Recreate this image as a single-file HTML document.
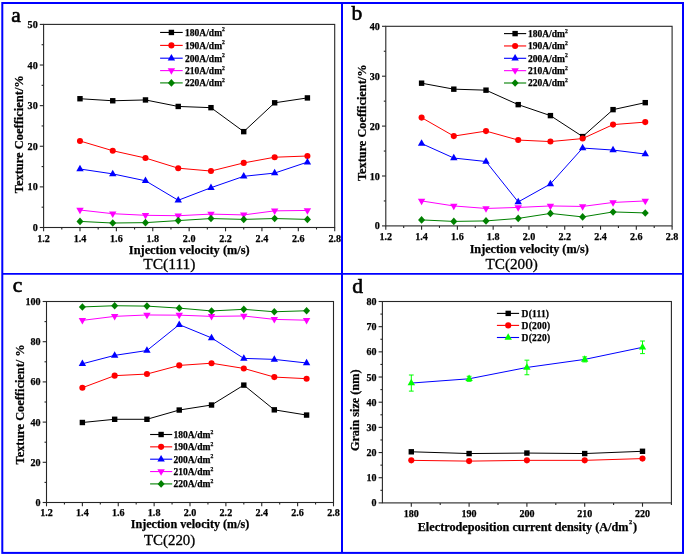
<!DOCTYPE html>
<html><head><meta charset="utf-8"><style>
html,body{margin:0;padding:0;background:#fff;width:685px;height:555px;overflow:hidden;position:relative}
</style></head><body>
<svg width="685" height="555" viewBox="0 0 685 555" style="position:absolute;left:0;top:0;filter:blur(0.35px)">
<rect width="685" height="555" fill="#fff"/>
<line x1="43.60" y1="227.50" x2="43.60" y2="231.30" stroke="#262626" stroke-width="1.1"/>
<line x1="79.99" y1="227.50" x2="79.99" y2="231.30" stroke="#262626" stroke-width="1.1"/>
<line x1="116.38" y1="227.50" x2="116.38" y2="231.30" stroke="#262626" stroke-width="1.1"/>
<line x1="152.76" y1="227.50" x2="152.76" y2="231.30" stroke="#262626" stroke-width="1.1"/>
<line x1="189.15" y1="227.50" x2="189.15" y2="231.30" stroke="#262626" stroke-width="1.1"/>
<line x1="225.54" y1="227.50" x2="225.54" y2="231.30" stroke="#262626" stroke-width="1.1"/>
<line x1="261.93" y1="227.50" x2="261.93" y2="231.30" stroke="#262626" stroke-width="1.1"/>
<line x1="298.31" y1="227.50" x2="298.31" y2="231.30" stroke="#262626" stroke-width="1.1"/>
<line x1="334.70" y1="227.50" x2="334.70" y2="231.30" stroke="#262626" stroke-width="1.1"/>
<line x1="61.79" y1="227.50" x2="61.79" y2="229.50" stroke="#262626" stroke-width="1.1"/>
<line x1="98.18" y1="227.50" x2="98.18" y2="229.50" stroke="#262626" stroke-width="1.1"/>
<line x1="134.57" y1="227.50" x2="134.57" y2="229.50" stroke="#262626" stroke-width="1.1"/>
<line x1="170.96" y1="227.50" x2="170.96" y2="229.50" stroke="#262626" stroke-width="1.1"/>
<line x1="207.34" y1="227.50" x2="207.34" y2="229.50" stroke="#262626" stroke-width="1.1"/>
<line x1="243.73" y1="227.50" x2="243.73" y2="229.50" stroke="#262626" stroke-width="1.1"/>
<line x1="280.12" y1="227.50" x2="280.12" y2="229.50" stroke="#262626" stroke-width="1.1"/>
<line x1="316.51" y1="227.50" x2="316.51" y2="229.50" stroke="#262626" stroke-width="1.1"/>
<line x1="43.60" y1="227.50" x2="39.80" y2="227.50" stroke="#262626" stroke-width="1.1"/>
<line x1="43.60" y1="186.88" x2="39.80" y2="186.88" stroke="#262626" stroke-width="1.1"/>
<line x1="43.60" y1="146.26" x2="39.80" y2="146.26" stroke="#262626" stroke-width="1.1"/>
<line x1="43.60" y1="105.64" x2="39.80" y2="105.64" stroke="#262626" stroke-width="1.1"/>
<line x1="43.60" y1="65.02" x2="39.80" y2="65.02" stroke="#262626" stroke-width="1.1"/>
<line x1="43.60" y1="24.40" x2="39.80" y2="24.40" stroke="#262626" stroke-width="1.1"/>
<line x1="43.60" y1="207.19" x2="41.60" y2="207.19" stroke="#262626" stroke-width="1.1"/>
<line x1="43.60" y1="166.57" x2="41.60" y2="166.57" stroke="#262626" stroke-width="1.1"/>
<line x1="43.60" y1="125.95" x2="41.60" y2="125.95" stroke="#262626" stroke-width="1.1"/>
<line x1="43.60" y1="85.33" x2="41.60" y2="85.33" stroke="#262626" stroke-width="1.1"/>
<line x1="43.60" y1="44.71" x2="41.60" y2="44.71" stroke="#262626" stroke-width="1.1"/>
<rect x="43.60" y="24.40" width="291.10" height="203.10" fill="none" stroke="#262626" stroke-width="1.1"/>
<text x="43.60" y="241.60" text-anchor="middle" style="font-family:'Liberation Serif',serif;font-weight:bold;stroke:#000;stroke-width:0.25px;font-size:10.1px">1.2</text>
<text x="79.99" y="241.60" text-anchor="middle" style="font-family:'Liberation Serif',serif;font-weight:bold;stroke:#000;stroke-width:0.25px;font-size:10.1px">1.4</text>
<text x="116.38" y="241.60" text-anchor="middle" style="font-family:'Liberation Serif',serif;font-weight:bold;stroke:#000;stroke-width:0.25px;font-size:10.1px">1.6</text>
<text x="152.76" y="241.60" text-anchor="middle" style="font-family:'Liberation Serif',serif;font-weight:bold;stroke:#000;stroke-width:0.25px;font-size:10.1px">1.8</text>
<text x="189.15" y="241.60" text-anchor="middle" style="font-family:'Liberation Serif',serif;font-weight:bold;stroke:#000;stroke-width:0.25px;font-size:10.1px">2.0</text>
<text x="225.54" y="241.60" text-anchor="middle" style="font-family:'Liberation Serif',serif;font-weight:bold;stroke:#000;stroke-width:0.25px;font-size:10.1px">2.2</text>
<text x="261.93" y="241.60" text-anchor="middle" style="font-family:'Liberation Serif',serif;font-weight:bold;stroke:#000;stroke-width:0.25px;font-size:10.1px">2.4</text>
<text x="298.31" y="241.60" text-anchor="middle" style="font-family:'Liberation Serif',serif;font-weight:bold;stroke:#000;stroke-width:0.25px;font-size:10.1px">2.6</text>
<text x="334.70" y="241.60" text-anchor="middle" style="font-family:'Liberation Serif',serif;font-weight:bold;stroke:#000;stroke-width:0.25px;font-size:10.1px">2.8</text>
<text x="37.70" y="231.00" text-anchor="end" style="font-family:'Liberation Serif',serif;font-weight:bold;stroke:#000;stroke-width:0.25px;font-size:10.1px">0</text>
<text x="37.70" y="190.38" text-anchor="end" style="font-family:'Liberation Serif',serif;font-weight:bold;stroke:#000;stroke-width:0.25px;font-size:10.1px">10</text>
<text x="37.70" y="149.76" text-anchor="end" style="font-family:'Liberation Serif',serif;font-weight:bold;stroke:#000;stroke-width:0.25px;font-size:10.1px">20</text>
<text x="37.70" y="109.14" text-anchor="end" style="font-family:'Liberation Serif',serif;font-weight:bold;stroke:#000;stroke-width:0.25px;font-size:10.1px">30</text>
<text x="37.70" y="68.52" text-anchor="end" style="font-family:'Liberation Serif',serif;font-weight:bold;stroke:#000;stroke-width:0.25px;font-size:10.1px">40</text>
<text x="37.70" y="27.90" text-anchor="end" style="font-family:'Liberation Serif',serif;font-weight:bold;stroke:#000;stroke-width:0.25px;font-size:10.1px">50</text>
<polyline points="79.99,98.73 112.74,100.77 145.49,99.95 178.23,106.45 210.98,107.67 243.73,131.64 274.66,102.80 307.41,97.92" fill="none" stroke="#000000" stroke-width="1.0" stroke-linejoin="round"/>
<rect x="77.29" y="96.03" width="5.40" height="5.40" fill="#000000"/>
<rect x="110.04" y="98.07" width="5.40" height="5.40" fill="#000000"/>
<rect x="142.79" y="97.25" width="5.40" height="5.40" fill="#000000"/>
<rect x="175.53" y="103.75" width="5.40" height="5.40" fill="#000000"/>
<rect x="208.28" y="104.97" width="5.40" height="5.40" fill="#000000"/>
<rect x="241.03" y="128.94" width="5.40" height="5.40" fill="#000000"/>
<rect x="271.96" y="100.10" width="5.40" height="5.40" fill="#000000"/>
<rect x="304.71" y="95.22" width="5.40" height="5.40" fill="#000000"/>
<polyline points="79.99,140.98 112.74,150.73 145.49,158.04 178.23,168.19 210.98,171.04 243.73,162.91 274.66,157.23 307.41,156.01" fill="none" stroke="#ff0000" stroke-width="1.0" stroke-linejoin="round"/>
<circle cx="79.99" cy="140.98" r="3.05" fill="#ff0000"/>
<circle cx="112.74" cy="150.73" r="3.05" fill="#ff0000"/>
<circle cx="145.49" cy="158.04" r="3.05" fill="#ff0000"/>
<circle cx="178.23" cy="168.19" r="3.05" fill="#ff0000"/>
<circle cx="210.98" cy="171.04" r="3.05" fill="#ff0000"/>
<circle cx="243.73" cy="162.91" r="3.05" fill="#ff0000"/>
<circle cx="274.66" cy="157.23" r="3.05" fill="#ff0000"/>
<circle cx="307.41" cy="156.01" r="3.05" fill="#ff0000"/>
<polyline points="79.99,169.01 112.74,173.88 145.49,180.79 178.23,200.28 210.98,187.69 243.73,176.32 274.66,173.07 307.41,162.10" fill="none" stroke="#0000ff" stroke-width="1.0" stroke-linejoin="round"/>
<polygon points="79.99,164.81 83.69,171.31 76.29,171.31" fill="#0000ff"/>
<polygon points="112.74,169.68 116.44,176.18 109.04,176.18" fill="#0000ff"/>
<polygon points="145.49,176.59 149.19,183.09 141.79,183.09" fill="#0000ff"/>
<polygon points="178.23,196.08 181.93,202.58 174.53,202.58" fill="#0000ff"/>
<polygon points="210.98,183.49 214.68,189.99 207.28,189.99" fill="#0000ff"/>
<polygon points="243.73,172.12 247.43,178.62 240.03,178.62" fill="#0000ff"/>
<polygon points="274.66,168.87 278.36,175.37 270.96,175.37" fill="#0000ff"/>
<polygon points="307.41,157.90 311.11,164.40 303.71,164.40" fill="#0000ff"/>
<polyline points="79.99,210.03 112.74,213.69 145.49,215.31 178.23,215.72 210.98,214.10 243.73,214.91 274.66,210.85 307.41,210.44" fill="none" stroke="#ff00ff" stroke-width="1.0" stroke-linejoin="round"/>
<polygon points="79.99,214.23 83.69,207.73 76.29,207.73" fill="#ff00ff"/>
<polygon points="112.74,217.89 116.44,211.39 109.04,211.39" fill="#ff00ff"/>
<polygon points="145.49,219.51 149.19,213.01 141.79,213.01" fill="#ff00ff"/>
<polygon points="178.23,219.92 181.93,213.42 174.53,213.42" fill="#ff00ff"/>
<polygon points="210.98,218.30 214.68,211.80 207.28,211.80" fill="#ff00ff"/>
<polygon points="243.73,219.11 247.43,212.61 240.03,212.61" fill="#ff00ff"/>
<polygon points="274.66,215.05 278.36,208.55 270.96,208.55" fill="#ff00ff"/>
<polygon points="307.41,214.64 311.11,208.14 303.71,208.14" fill="#ff00ff"/>
<polyline points="79.99,221.41 112.74,223.03 145.49,222.63 178.23,220.59 210.98,218.56 243.73,219.38 274.66,218.56 307.41,219.38" fill="none" stroke="#008000" stroke-width="1.0" stroke-linejoin="round"/>
<polygon points="79.99,217.61 83.49,221.41 79.99,225.21 76.49,221.41" fill="#008000"/>
<polygon points="112.74,219.23 116.24,223.03 112.74,226.83 109.24,223.03" fill="#008000"/>
<polygon points="145.49,218.83 148.99,222.63 145.49,226.43 141.99,222.63" fill="#008000"/>
<polygon points="178.23,216.79 181.73,220.59 178.23,224.39 174.73,220.59" fill="#008000"/>
<polygon points="210.98,214.76 214.48,218.56 210.98,222.36 207.48,218.56" fill="#008000"/>
<polygon points="243.73,215.58 247.23,219.38 243.73,223.18 240.23,219.38" fill="#008000"/>
<polygon points="274.66,214.76 278.16,218.56 274.66,222.36 271.16,218.56" fill="#008000"/>
<polygon points="307.41,215.58 310.91,219.38 307.41,223.18 303.91,219.38" fill="#008000"/>
<line x1="160.10" y1="32.45" x2="182.70" y2="32.45" stroke="#000000" stroke-width="1.1"/>
<rect x="168.70" y="29.75" width="5.40" height="5.40" fill="#000000"/>
<text x="185.10" y="35.75" style="font-family:'Liberation Serif',serif;font-weight:bold;stroke:#000;stroke-width:0.25px;font-size:9.5px;letter-spacing:0px">180A/dm<tspan dy="-4.3" style="font-size:5.6px">2</tspan></text>
<line x1="160.10" y1="45.40" x2="182.70" y2="45.40" stroke="#ff0000" stroke-width="1.1"/>
<circle cx="171.40" cy="45.40" r="3.05" fill="#ff0000"/>
<text x="185.10" y="48.70" style="font-family:'Liberation Serif',serif;font-weight:bold;stroke:#000;stroke-width:0.25px;font-size:9.5px;letter-spacing:0px">190A/dm<tspan dy="-4.3" style="font-size:5.6px">2</tspan></text>
<line x1="160.10" y1="58.20" x2="182.70" y2="58.20" stroke="#0000ff" stroke-width="1.1"/>
<polygon points="171.40,54.00 175.10,60.50 167.70,60.50" fill="#0000ff"/>
<text x="185.10" y="61.50" style="font-family:'Liberation Serif',serif;font-weight:bold;stroke:#000;stroke-width:0.25px;font-size:9.5px;letter-spacing:0px">200A/dm<tspan dy="-4.3" style="font-size:5.6px">2</tspan></text>
<line x1="160.10" y1="70.60" x2="182.70" y2="70.60" stroke="#ff00ff" stroke-width="1.1"/>
<polygon points="171.40,74.80 175.10,68.30 167.70,68.30" fill="#ff00ff"/>
<text x="185.10" y="73.90" style="font-family:'Liberation Serif',serif;font-weight:bold;stroke:#000;stroke-width:0.25px;font-size:9.5px;letter-spacing:0px">210A/dm<tspan dy="-4.3" style="font-size:5.6px">2</tspan></text>
<line x1="160.10" y1="82.90" x2="182.70" y2="82.90" stroke="#008000" stroke-width="1.1"/>
<polygon points="171.40,79.10 174.90,82.90 171.40,86.70 167.90,82.90" fill="#008000"/>
<text x="185.10" y="86.20" style="font-family:'Liberation Serif',serif;font-weight:bold;stroke:#000;stroke-width:0.25px;font-size:9.5px;letter-spacing:0px">220A/dm<tspan dy="-4.3" style="font-size:5.6px">2</tspan></text>
<line x1="385.80" y1="225.90" x2="385.80" y2="229.70" stroke="#262626" stroke-width="1.1"/>
<line x1="421.59" y1="225.90" x2="421.59" y2="229.70" stroke="#262626" stroke-width="1.1"/>
<line x1="457.38" y1="225.90" x2="457.38" y2="229.70" stroke="#262626" stroke-width="1.1"/>
<line x1="493.16" y1="225.90" x2="493.16" y2="229.70" stroke="#262626" stroke-width="1.1"/>
<line x1="528.95" y1="225.90" x2="528.95" y2="229.70" stroke="#262626" stroke-width="1.1"/>
<line x1="564.74" y1="225.90" x2="564.74" y2="229.70" stroke="#262626" stroke-width="1.1"/>
<line x1="600.53" y1="225.90" x2="600.53" y2="229.70" stroke="#262626" stroke-width="1.1"/>
<line x1="636.31" y1="225.90" x2="636.31" y2="229.70" stroke="#262626" stroke-width="1.1"/>
<line x1="672.10" y1="225.90" x2="672.10" y2="229.70" stroke="#262626" stroke-width="1.1"/>
<line x1="403.69" y1="225.90" x2="403.69" y2="227.90" stroke="#262626" stroke-width="1.1"/>
<line x1="439.48" y1="225.90" x2="439.48" y2="227.90" stroke="#262626" stroke-width="1.1"/>
<line x1="475.27" y1="225.90" x2="475.27" y2="227.90" stroke="#262626" stroke-width="1.1"/>
<line x1="511.06" y1="225.90" x2="511.06" y2="227.90" stroke="#262626" stroke-width="1.1"/>
<line x1="546.84" y1="225.90" x2="546.84" y2="227.90" stroke="#262626" stroke-width="1.1"/>
<line x1="582.63" y1="225.90" x2="582.63" y2="227.90" stroke="#262626" stroke-width="1.1"/>
<line x1="618.42" y1="225.90" x2="618.42" y2="227.90" stroke="#262626" stroke-width="1.1"/>
<line x1="654.21" y1="225.90" x2="654.21" y2="227.90" stroke="#262626" stroke-width="1.1"/>
<line x1="385.80" y1="225.90" x2="382.00" y2="225.90" stroke="#262626" stroke-width="1.1"/>
<line x1="385.80" y1="176.00" x2="382.00" y2="176.00" stroke="#262626" stroke-width="1.1"/>
<line x1="385.80" y1="126.10" x2="382.00" y2="126.10" stroke="#262626" stroke-width="1.1"/>
<line x1="385.80" y1="76.20" x2="382.00" y2="76.20" stroke="#262626" stroke-width="1.1"/>
<line x1="385.80" y1="26.30" x2="382.00" y2="26.30" stroke="#262626" stroke-width="1.1"/>
<line x1="385.80" y1="200.95" x2="383.80" y2="200.95" stroke="#262626" stroke-width="1.1"/>
<line x1="385.80" y1="151.05" x2="383.80" y2="151.05" stroke="#262626" stroke-width="1.1"/>
<line x1="385.80" y1="101.15" x2="383.80" y2="101.15" stroke="#262626" stroke-width="1.1"/>
<line x1="385.80" y1="51.25" x2="383.80" y2="51.25" stroke="#262626" stroke-width="1.1"/>
<rect x="385.80" y="26.30" width="286.30" height="199.60" fill="none" stroke="#262626" stroke-width="1.1"/>
<text x="385.80" y="240.00" text-anchor="middle" style="font-family:'Liberation Serif',serif;font-weight:bold;stroke:#000;stroke-width:0.25px;font-size:10.1px">1.2</text>
<text x="421.59" y="240.00" text-anchor="middle" style="font-family:'Liberation Serif',serif;font-weight:bold;stroke:#000;stroke-width:0.25px;font-size:10.1px">1.4</text>
<text x="457.38" y="240.00" text-anchor="middle" style="font-family:'Liberation Serif',serif;font-weight:bold;stroke:#000;stroke-width:0.25px;font-size:10.1px">1.6</text>
<text x="493.16" y="240.00" text-anchor="middle" style="font-family:'Liberation Serif',serif;font-weight:bold;stroke:#000;stroke-width:0.25px;font-size:10.1px">1.8</text>
<text x="528.95" y="240.00" text-anchor="middle" style="font-family:'Liberation Serif',serif;font-weight:bold;stroke:#000;stroke-width:0.25px;font-size:10.1px">2.0</text>
<text x="564.74" y="240.00" text-anchor="middle" style="font-family:'Liberation Serif',serif;font-weight:bold;stroke:#000;stroke-width:0.25px;font-size:10.1px">2.2</text>
<text x="600.53" y="240.00" text-anchor="middle" style="font-family:'Liberation Serif',serif;font-weight:bold;stroke:#000;stroke-width:0.25px;font-size:10.1px">2.4</text>
<text x="636.31" y="240.00" text-anchor="middle" style="font-family:'Liberation Serif',serif;font-weight:bold;stroke:#000;stroke-width:0.25px;font-size:10.1px">2.6</text>
<text x="672.10" y="240.00" text-anchor="middle" style="font-family:'Liberation Serif',serif;font-weight:bold;stroke:#000;stroke-width:0.25px;font-size:10.1px">2.8</text>
<text x="379.90" y="229.40" text-anchor="end" style="font-family:'Liberation Serif',serif;font-weight:bold;stroke:#000;stroke-width:0.25px;font-size:10.1px">0</text>
<text x="379.90" y="179.50" text-anchor="end" style="font-family:'Liberation Serif',serif;font-weight:bold;stroke:#000;stroke-width:0.25px;font-size:10.1px">10</text>
<text x="379.90" y="129.60" text-anchor="end" style="font-family:'Liberation Serif',serif;font-weight:bold;stroke:#000;stroke-width:0.25px;font-size:10.1px">20</text>
<text x="379.90" y="79.70" text-anchor="end" style="font-family:'Liberation Serif',serif;font-weight:bold;stroke:#000;stroke-width:0.25px;font-size:10.1px">30</text>
<text x="379.90" y="29.80" text-anchor="end" style="font-family:'Liberation Serif',serif;font-weight:bold;stroke:#000;stroke-width:0.25px;font-size:10.1px">40</text>
<polyline points="421.59,83.19 453.80,89.17 486.01,90.17 518.21,104.64 550.42,115.62 582.63,136.58 613.05,109.63 645.26,102.65" fill="none" stroke="#000000" stroke-width="1.0" stroke-linejoin="round"/>
<rect x="418.89" y="80.49" width="5.40" height="5.40" fill="#000000"/>
<rect x="451.10" y="86.47" width="5.40" height="5.40" fill="#000000"/>
<rect x="483.31" y="87.47" width="5.40" height="5.40" fill="#000000"/>
<rect x="515.51" y="101.94" width="5.40" height="5.40" fill="#000000"/>
<rect x="547.72" y="112.92" width="5.40" height="5.40" fill="#000000"/>
<rect x="579.93" y="133.88" width="5.40" height="5.40" fill="#000000"/>
<rect x="610.35" y="106.93" width="5.40" height="5.40" fill="#000000"/>
<rect x="642.56" y="99.95" width="5.40" height="5.40" fill="#000000"/>
<polyline points="421.59,117.62 453.80,136.08 486.01,131.09 518.21,140.07 550.42,141.57 582.63,138.57 613.05,124.60 645.26,122.11" fill="none" stroke="#ff0000" stroke-width="1.0" stroke-linejoin="round"/>
<circle cx="421.59" cy="117.62" r="3.05" fill="#ff0000"/>
<circle cx="453.80" cy="136.08" r="3.05" fill="#ff0000"/>
<circle cx="486.01" cy="131.09" r="3.05" fill="#ff0000"/>
<circle cx="518.21" cy="140.07" r="3.05" fill="#ff0000"/>
<circle cx="550.42" cy="141.57" r="3.05" fill="#ff0000"/>
<circle cx="582.63" cy="138.57" r="3.05" fill="#ff0000"/>
<circle cx="613.05" cy="124.60" r="3.05" fill="#ff0000"/>
<circle cx="645.26" cy="122.11" r="3.05" fill="#ff0000"/>
<polyline points="421.59,143.56 453.80,158.04 486.01,161.53 518.21,201.95 550.42,183.98 582.63,148.06 613.05,150.05 645.26,154.04" fill="none" stroke="#0000ff" stroke-width="1.0" stroke-linejoin="round"/>
<polygon points="421.59,139.37 425.29,145.87 417.89,145.87" fill="#0000ff"/>
<polygon points="453.80,153.84 457.50,160.34 450.10,160.34" fill="#0000ff"/>
<polygon points="486.01,157.33 489.71,163.83 482.31,163.83" fill="#0000ff"/>
<polygon points="518.21,197.75 521.91,204.25 514.51,204.25" fill="#0000ff"/>
<polygon points="550.42,179.78 554.12,186.28 546.72,186.28" fill="#0000ff"/>
<polygon points="582.63,143.86 586.33,150.36 578.93,150.36" fill="#0000ff"/>
<polygon points="613.05,145.85 616.75,152.35 609.35,152.35" fill="#0000ff"/>
<polygon points="645.26,149.84 648.96,156.34 641.56,156.34" fill="#0000ff"/>
<polyline points="421.59,200.95 453.80,205.94 486.01,208.44 518.21,207.44 550.42,205.94 582.63,206.44 613.05,202.45 645.26,200.95" fill="none" stroke="#ff00ff" stroke-width="1.0" stroke-linejoin="round"/>
<polygon points="421.59,205.15 425.29,198.65 417.89,198.65" fill="#ff00ff"/>
<polygon points="453.80,210.14 457.50,203.64 450.10,203.64" fill="#ff00ff"/>
<polygon points="486.01,212.63 489.71,206.13 482.31,206.13" fill="#ff00ff"/>
<polygon points="518.21,211.64 521.91,205.14 514.51,205.14" fill="#ff00ff"/>
<polygon points="550.42,210.14 554.12,203.64 546.72,203.64" fill="#ff00ff"/>
<polygon points="582.63,210.64 586.33,204.14 578.93,204.14" fill="#ff00ff"/>
<polygon points="613.05,206.65 616.75,200.15 609.35,200.15" fill="#ff00ff"/>
<polygon points="645.26,205.15 648.96,198.65 641.56,198.65" fill="#ff00ff"/>
<polyline points="421.59,219.91 453.80,221.41 486.01,220.91 518.21,218.42 550.42,213.43 582.63,216.92 613.05,211.93 645.26,212.93" fill="none" stroke="#008000" stroke-width="1.0" stroke-linejoin="round"/>
<polygon points="421.59,216.11 425.09,219.91 421.59,223.71 418.09,219.91" fill="#008000"/>
<polygon points="453.80,217.61 457.30,221.41 453.80,225.21 450.30,221.41" fill="#008000"/>
<polygon points="486.01,217.11 489.51,220.91 486.01,224.71 482.51,220.91" fill="#008000"/>
<polygon points="518.21,214.62 521.71,218.42 518.21,222.22 514.71,218.42" fill="#008000"/>
<polygon points="550.42,209.62 553.92,213.43 550.42,217.23 546.92,213.43" fill="#008000"/>
<polygon points="582.63,213.12 586.13,216.92 582.63,220.72 579.13,216.92" fill="#008000"/>
<polygon points="613.05,208.13 616.55,211.93 613.05,215.73 609.55,211.93" fill="#008000"/>
<polygon points="645.26,209.13 648.76,212.93 645.26,216.73 641.76,212.93" fill="#008000"/>
<line x1="504.00" y1="33.60" x2="526.20" y2="33.60" stroke="#000000" stroke-width="1.1"/>
<rect x="512.40" y="30.90" width="5.40" height="5.40" fill="#000000"/>
<text x="528.00" y="36.90" style="font-family:'Liberation Serif',serif;font-weight:bold;stroke:#000;stroke-width:0.25px;font-size:9.5px;letter-spacing:0px">180A/dm<tspan dy="-4.3" style="font-size:5.6px">2</tspan></text>
<line x1="504.00" y1="45.95" x2="526.20" y2="45.95" stroke="#ff0000" stroke-width="1.1"/>
<circle cx="515.10" cy="45.95" r="3.05" fill="#ff0000"/>
<text x="528.00" y="49.25" style="font-family:'Liberation Serif',serif;font-weight:bold;stroke:#000;stroke-width:0.25px;font-size:9.5px;letter-spacing:0px">190A/dm<tspan dy="-4.3" style="font-size:5.6px">2</tspan></text>
<line x1="504.00" y1="58.30" x2="526.20" y2="58.30" stroke="#0000ff" stroke-width="1.1"/>
<polygon points="515.10,54.10 518.80,60.60 511.40,60.60" fill="#0000ff"/>
<text x="528.00" y="61.60" style="font-family:'Liberation Serif',serif;font-weight:bold;stroke:#000;stroke-width:0.25px;font-size:9.5px;letter-spacing:0px">200A/dm<tspan dy="-4.3" style="font-size:5.6px">2</tspan></text>
<line x1="504.00" y1="70.65" x2="526.20" y2="70.65" stroke="#ff00ff" stroke-width="1.1"/>
<polygon points="515.10,74.85 518.80,68.35 511.40,68.35" fill="#ff00ff"/>
<text x="528.00" y="73.95" style="font-family:'Liberation Serif',serif;font-weight:bold;stroke:#000;stroke-width:0.25px;font-size:9.5px;letter-spacing:0px">210A/dm<tspan dy="-4.3" style="font-size:5.6px">2</tspan></text>
<line x1="504.00" y1="83.00" x2="526.20" y2="83.00" stroke="#008000" stroke-width="1.1"/>
<polygon points="515.10,79.20 518.60,83.00 515.10,86.80 511.60,83.00" fill="#008000"/>
<text x="528.00" y="86.30" style="font-family:'Liberation Serif',serif;font-weight:bold;stroke:#000;stroke-width:0.25px;font-size:9.5px;letter-spacing:0px">220A/dm<tspan dy="-4.3" style="font-size:5.6px">2</tspan></text>
<line x1="46.50" y1="502.50" x2="46.50" y2="506.30" stroke="#262626" stroke-width="1.1"/>
<line x1="82.38" y1="502.50" x2="82.38" y2="506.30" stroke="#262626" stroke-width="1.1"/>
<line x1="118.25" y1="502.50" x2="118.25" y2="506.30" stroke="#262626" stroke-width="1.1"/>
<line x1="154.13" y1="502.50" x2="154.13" y2="506.30" stroke="#262626" stroke-width="1.1"/>
<line x1="190.00" y1="502.50" x2="190.00" y2="506.30" stroke="#262626" stroke-width="1.1"/>
<line x1="225.88" y1="502.50" x2="225.88" y2="506.30" stroke="#262626" stroke-width="1.1"/>
<line x1="261.75" y1="502.50" x2="261.75" y2="506.30" stroke="#262626" stroke-width="1.1"/>
<line x1="297.62" y1="502.50" x2="297.62" y2="506.30" stroke="#262626" stroke-width="1.1"/>
<line x1="333.50" y1="502.50" x2="333.50" y2="506.30" stroke="#262626" stroke-width="1.1"/>
<line x1="64.44" y1="502.50" x2="64.44" y2="504.50" stroke="#262626" stroke-width="1.1"/>
<line x1="100.31" y1="502.50" x2="100.31" y2="504.50" stroke="#262626" stroke-width="1.1"/>
<line x1="136.19" y1="502.50" x2="136.19" y2="504.50" stroke="#262626" stroke-width="1.1"/>
<line x1="172.06" y1="502.50" x2="172.06" y2="504.50" stroke="#262626" stroke-width="1.1"/>
<line x1="207.94" y1="502.50" x2="207.94" y2="504.50" stroke="#262626" stroke-width="1.1"/>
<line x1="243.81" y1="502.50" x2="243.81" y2="504.50" stroke="#262626" stroke-width="1.1"/>
<line x1="279.69" y1="502.50" x2="279.69" y2="504.50" stroke="#262626" stroke-width="1.1"/>
<line x1="315.56" y1="502.50" x2="315.56" y2="504.50" stroke="#262626" stroke-width="1.1"/>
<line x1="46.50" y1="502.50" x2="42.70" y2="502.50" stroke="#262626" stroke-width="1.1"/>
<line x1="46.50" y1="462.30" x2="42.70" y2="462.30" stroke="#262626" stroke-width="1.1"/>
<line x1="46.50" y1="422.10" x2="42.70" y2="422.10" stroke="#262626" stroke-width="1.1"/>
<line x1="46.50" y1="381.90" x2="42.70" y2="381.90" stroke="#262626" stroke-width="1.1"/>
<line x1="46.50" y1="341.70" x2="42.70" y2="341.70" stroke="#262626" stroke-width="1.1"/>
<line x1="46.50" y1="301.50" x2="42.70" y2="301.50" stroke="#262626" stroke-width="1.1"/>
<line x1="46.50" y1="482.40" x2="44.50" y2="482.40" stroke="#262626" stroke-width="1.1"/>
<line x1="46.50" y1="442.20" x2="44.50" y2="442.20" stroke="#262626" stroke-width="1.1"/>
<line x1="46.50" y1="402.00" x2="44.50" y2="402.00" stroke="#262626" stroke-width="1.1"/>
<line x1="46.50" y1="361.80" x2="44.50" y2="361.80" stroke="#262626" stroke-width="1.1"/>
<line x1="46.50" y1="321.60" x2="44.50" y2="321.60" stroke="#262626" stroke-width="1.1"/>
<rect x="46.50" y="301.50" width="287.00" height="201.00" fill="none" stroke="#262626" stroke-width="1.1"/>
<text x="46.50" y="516.20" text-anchor="middle" style="font-family:'Liberation Serif',serif;font-weight:bold;stroke:#000;stroke-width:0.25px;font-size:10.1px">1.2</text>
<text x="82.38" y="516.20" text-anchor="middle" style="font-family:'Liberation Serif',serif;font-weight:bold;stroke:#000;stroke-width:0.25px;font-size:10.1px">1.4</text>
<text x="118.25" y="516.20" text-anchor="middle" style="font-family:'Liberation Serif',serif;font-weight:bold;stroke:#000;stroke-width:0.25px;font-size:10.1px">1.6</text>
<text x="154.13" y="516.20" text-anchor="middle" style="font-family:'Liberation Serif',serif;font-weight:bold;stroke:#000;stroke-width:0.25px;font-size:10.1px">1.8</text>
<text x="190.00" y="516.20" text-anchor="middle" style="font-family:'Liberation Serif',serif;font-weight:bold;stroke:#000;stroke-width:0.25px;font-size:10.1px">2.0</text>
<text x="225.88" y="516.20" text-anchor="middle" style="font-family:'Liberation Serif',serif;font-weight:bold;stroke:#000;stroke-width:0.25px;font-size:10.1px">2.2</text>
<text x="261.75" y="516.20" text-anchor="middle" style="font-family:'Liberation Serif',serif;font-weight:bold;stroke:#000;stroke-width:0.25px;font-size:10.1px">2.4</text>
<text x="297.62" y="516.20" text-anchor="middle" style="font-family:'Liberation Serif',serif;font-weight:bold;stroke:#000;stroke-width:0.25px;font-size:10.1px">2.6</text>
<text x="333.50" y="516.20" text-anchor="middle" style="font-family:'Liberation Serif',serif;font-weight:bold;stroke:#000;stroke-width:0.25px;font-size:10.1px">2.8</text>
<text x="40.60" y="506.00" text-anchor="end" style="font-family:'Liberation Serif',serif;font-weight:bold;stroke:#000;stroke-width:0.25px;font-size:10.1px">0</text>
<text x="40.60" y="465.80" text-anchor="end" style="font-family:'Liberation Serif',serif;font-weight:bold;stroke:#000;stroke-width:0.25px;font-size:10.1px">20</text>
<text x="40.60" y="425.60" text-anchor="end" style="font-family:'Liberation Serif',serif;font-weight:bold;stroke:#000;stroke-width:0.25px;font-size:10.1px">40</text>
<text x="40.60" y="385.40" text-anchor="end" style="font-family:'Liberation Serif',serif;font-weight:bold;stroke:#000;stroke-width:0.25px;font-size:10.1px">60</text>
<text x="40.60" y="345.20" text-anchor="end" style="font-family:'Liberation Serif',serif;font-weight:bold;stroke:#000;stroke-width:0.25px;font-size:10.1px">80</text>
<text x="40.60" y="305.00" text-anchor="end" style="font-family:'Liberation Serif',serif;font-weight:bold;stroke:#000;stroke-width:0.25px;font-size:10.1px">100</text>
<polyline points="82.38,422.50 114.66,419.29 146.95,419.29 179.24,410.04 211.53,405.01 243.81,385.12 274.31,409.84 306.59,415.06" fill="none" stroke="#000000" stroke-width="1.0" stroke-linejoin="round"/>
<rect x="79.67" y="419.80" width="5.40" height="5.40" fill="#000000"/>
<rect x="111.96" y="416.59" width="5.40" height="5.40" fill="#000000"/>
<rect x="144.25" y="416.59" width="5.40" height="5.40" fill="#000000"/>
<rect x="176.54" y="407.34" width="5.40" height="5.40" fill="#000000"/>
<rect x="208.83" y="402.31" width="5.40" height="5.40" fill="#000000"/>
<rect x="241.11" y="382.42" width="5.40" height="5.40" fill="#000000"/>
<rect x="271.61" y="407.14" width="5.40" height="5.40" fill="#000000"/>
<rect x="303.89" y="412.37" width="5.40" height="5.40" fill="#000000"/>
<polyline points="82.38,387.73 114.66,375.67 146.95,374.06 179.24,365.42 211.53,363.21 243.81,368.43 274.31,377.08 306.59,378.68" fill="none" stroke="#ff0000" stroke-width="1.0" stroke-linejoin="round"/>
<circle cx="82.38" cy="387.73" r="3.05" fill="#ff0000"/>
<circle cx="114.66" cy="375.67" r="3.05" fill="#ff0000"/>
<circle cx="146.95" cy="374.06" r="3.05" fill="#ff0000"/>
<circle cx="179.24" cy="365.42" r="3.05" fill="#ff0000"/>
<circle cx="211.53" cy="363.21" r="3.05" fill="#ff0000"/>
<circle cx="243.81" cy="368.43" r="3.05" fill="#ff0000"/>
<circle cx="274.31" cy="377.08" r="3.05" fill="#ff0000"/>
<circle cx="306.59" cy="378.68" r="3.05" fill="#ff0000"/>
<polyline points="82.38,363.81 114.66,355.37 146.95,350.54 179.24,324.62 211.53,337.88 243.81,358.38 274.31,359.39 306.59,363.01" fill="none" stroke="#0000ff" stroke-width="1.0" stroke-linejoin="round"/>
<polygon points="82.38,359.61 86.08,366.11 78.67,366.11" fill="#0000ff"/>
<polygon points="114.66,351.17 118.36,357.67 110.96,357.67" fill="#0000ff"/>
<polygon points="146.95,346.34 150.65,352.84 143.25,352.84" fill="#0000ff"/>
<polygon points="179.24,320.42 182.94,326.92 175.54,326.92" fill="#0000ff"/>
<polygon points="211.53,333.68 215.23,340.18 207.83,340.18" fill="#0000ff"/>
<polygon points="243.81,354.18 247.51,360.68 240.11,360.68" fill="#0000ff"/>
<polygon points="274.31,355.19 278.01,361.69 270.61,361.69" fill="#0000ff"/>
<polygon points="306.59,358.81 310.29,365.31 302.89,365.31" fill="#0000ff"/>
<polyline points="82.38,320.39 114.66,316.37 146.95,314.97 179.24,315.17 211.53,316.37 243.81,315.97 274.31,319.39 306.59,320.19" fill="none" stroke="#ff00ff" stroke-width="1.0" stroke-linejoin="round"/>
<polygon points="82.38,324.59 86.08,318.09 78.67,318.09" fill="#ff00ff"/>
<polygon points="114.66,320.57 118.36,314.07 110.96,314.07" fill="#ff00ff"/>
<polygon points="146.95,319.17 150.65,312.67 143.25,312.67" fill="#ff00ff"/>
<polygon points="179.24,319.37 182.94,312.87 175.54,312.87" fill="#ff00ff"/>
<polygon points="211.53,320.57 215.23,314.07 207.83,314.07" fill="#ff00ff"/>
<polygon points="243.81,320.17 247.51,313.67 240.11,313.67" fill="#ff00ff"/>
<polygon points="274.31,323.59 278.01,317.09 270.61,317.09" fill="#ff00ff"/>
<polygon points="306.59,324.39 310.29,317.89 302.89,317.89" fill="#ff00ff"/>
<polyline points="82.38,306.93 114.66,305.72 146.95,306.12 179.24,308.13 211.53,310.95 243.81,309.34 274.31,311.75 306.59,310.75" fill="none" stroke="#008000" stroke-width="1.0" stroke-linejoin="round"/>
<polygon points="82.38,303.13 85.88,306.93 82.38,310.73 78.88,306.93" fill="#008000"/>
<polygon points="114.66,301.92 118.16,305.72 114.66,309.52 111.16,305.72" fill="#008000"/>
<polygon points="146.95,302.32 150.45,306.12 146.95,309.92 143.45,306.12" fill="#008000"/>
<polygon points="179.24,304.33 182.74,308.13 179.24,311.93 175.74,308.13" fill="#008000"/>
<polygon points="211.53,307.15 215.03,310.95 211.53,314.75 208.03,310.95" fill="#008000"/>
<polygon points="243.81,305.54 247.31,309.34 243.81,313.14 240.31,309.34" fill="#008000"/>
<polygon points="274.31,307.95 277.81,311.75 274.31,315.55 270.81,311.75" fill="#008000"/>
<polygon points="306.59,306.95 310.09,310.75 306.59,314.55 303.09,310.75" fill="#008000"/>
<line x1="150.10" y1="434.50" x2="172.20" y2="434.50" stroke="#000000" stroke-width="1.1"/>
<rect x="158.40" y="431.80" width="5.40" height="5.40" fill="#000000"/>
<text x="173.50" y="437.80" style="font-family:'Liberation Serif',serif;font-weight:bold;stroke:#000;stroke-width:0.25px;font-size:9.5px;letter-spacing:0px">180A/dm<tspan dy="-4.3" style="font-size:5.6px">2</tspan></text>
<line x1="150.10" y1="446.85" x2="172.20" y2="446.85" stroke="#ff0000" stroke-width="1.1"/>
<circle cx="161.10" cy="446.85" r="3.05" fill="#ff0000"/>
<text x="173.50" y="450.15" style="font-family:'Liberation Serif',serif;font-weight:bold;stroke:#000;stroke-width:0.25px;font-size:9.5px;letter-spacing:0px">190A/dm<tspan dy="-4.3" style="font-size:5.6px">2</tspan></text>
<line x1="150.10" y1="459.20" x2="172.20" y2="459.20" stroke="#0000ff" stroke-width="1.1"/>
<polygon points="161.10,455.00 164.80,461.50 157.40,461.50" fill="#0000ff"/>
<text x="173.50" y="462.50" style="font-family:'Liberation Serif',serif;font-weight:bold;stroke:#000;stroke-width:0.25px;font-size:9.5px;letter-spacing:0px">200A/dm<tspan dy="-4.3" style="font-size:5.6px">2</tspan></text>
<line x1="150.10" y1="471.55" x2="172.20" y2="471.55" stroke="#ff00ff" stroke-width="1.1"/>
<polygon points="161.10,475.75 164.80,469.25 157.40,469.25" fill="#ff00ff"/>
<text x="173.50" y="474.85" style="font-family:'Liberation Serif',serif;font-weight:bold;stroke:#000;stroke-width:0.25px;font-size:9.5px;letter-spacing:0px">210A/dm<tspan dy="-4.3" style="font-size:5.6px">2</tspan></text>
<line x1="150.10" y1="483.90" x2="172.20" y2="483.90" stroke="#008000" stroke-width="1.1"/>
<polygon points="161.10,480.10 164.60,483.90 161.10,487.70 157.60,483.90" fill="#008000"/>
<text x="173.50" y="487.20" style="font-family:'Liberation Serif',serif;font-weight:bold;stroke:#000;stroke-width:0.25px;font-size:9.5px;letter-spacing:0px">220A/dm<tspan dy="-4.3" style="font-size:5.6px">2</tspan></text>
<line x1="411.30" y1="502.90" x2="411.30" y2="506.70" stroke="#262626" stroke-width="1.1"/>
<line x1="469.10" y1="502.90" x2="469.10" y2="506.70" stroke="#262626" stroke-width="1.1"/>
<line x1="526.90" y1="502.90" x2="526.90" y2="506.70" stroke="#262626" stroke-width="1.1"/>
<line x1="584.70" y1="502.90" x2="584.70" y2="506.70" stroke="#262626" stroke-width="1.1"/>
<line x1="642.50" y1="502.90" x2="642.50" y2="506.70" stroke="#262626" stroke-width="1.1"/>
<line x1="440.20" y1="502.90" x2="440.20" y2="504.90" stroke="#262626" stroke-width="1.1"/>
<line x1="498.00" y1="502.90" x2="498.00" y2="504.90" stroke="#262626" stroke-width="1.1"/>
<line x1="555.80" y1="502.90" x2="555.80" y2="504.90" stroke="#262626" stroke-width="1.1"/>
<line x1="613.60" y1="502.90" x2="613.60" y2="504.90" stroke="#262626" stroke-width="1.1"/>
<line x1="671.40" y1="502.90" x2="671.40" y2="504.90" stroke="#262626" stroke-width="1.1"/>
<line x1="382.40" y1="502.90" x2="378.60" y2="502.90" stroke="#262626" stroke-width="1.1"/>
<line x1="382.40" y1="477.72" x2="378.60" y2="477.72" stroke="#262626" stroke-width="1.1"/>
<line x1="382.40" y1="452.55" x2="378.60" y2="452.55" stroke="#262626" stroke-width="1.1"/>
<line x1="382.40" y1="427.38" x2="378.60" y2="427.38" stroke="#262626" stroke-width="1.1"/>
<line x1="382.40" y1="402.20" x2="378.60" y2="402.20" stroke="#262626" stroke-width="1.1"/>
<line x1="382.40" y1="377.02" x2="378.60" y2="377.02" stroke="#262626" stroke-width="1.1"/>
<line x1="382.40" y1="351.85" x2="378.60" y2="351.85" stroke="#262626" stroke-width="1.1"/>
<line x1="382.40" y1="326.68" x2="378.60" y2="326.68" stroke="#262626" stroke-width="1.1"/>
<line x1="382.40" y1="301.50" x2="378.60" y2="301.50" stroke="#262626" stroke-width="1.1"/>
<line x1="382.40" y1="490.31" x2="380.40" y2="490.31" stroke="#262626" stroke-width="1.1"/>
<line x1="382.40" y1="465.14" x2="380.40" y2="465.14" stroke="#262626" stroke-width="1.1"/>
<line x1="382.40" y1="439.96" x2="380.40" y2="439.96" stroke="#262626" stroke-width="1.1"/>
<line x1="382.40" y1="414.79" x2="380.40" y2="414.79" stroke="#262626" stroke-width="1.1"/>
<line x1="382.40" y1="389.61" x2="380.40" y2="389.61" stroke="#262626" stroke-width="1.1"/>
<line x1="382.40" y1="364.44" x2="380.40" y2="364.44" stroke="#262626" stroke-width="1.1"/>
<line x1="382.40" y1="339.26" x2="380.40" y2="339.26" stroke="#262626" stroke-width="1.1"/>
<line x1="382.40" y1="314.09" x2="380.40" y2="314.09" stroke="#262626" stroke-width="1.1"/>
<rect x="382.40" y="301.50" width="289.00" height="201.40" fill="none" stroke="#262626" stroke-width="1.1"/>
<text x="411.30" y="516.90" text-anchor="middle" style="font-family:'Liberation Serif',serif;font-weight:bold;stroke:#000;stroke-width:0.25px;font-size:10.0px">180</text>
<text x="469.10" y="516.90" text-anchor="middle" style="font-family:'Liberation Serif',serif;font-weight:bold;stroke:#000;stroke-width:0.25px;font-size:10.0px">190</text>
<text x="526.90" y="516.90" text-anchor="middle" style="font-family:'Liberation Serif',serif;font-weight:bold;stroke:#000;stroke-width:0.25px;font-size:10.0px">200</text>
<text x="584.70" y="516.90" text-anchor="middle" style="font-family:'Liberation Serif',serif;font-weight:bold;stroke:#000;stroke-width:0.25px;font-size:10.0px">210</text>
<text x="642.50" y="516.90" text-anchor="middle" style="font-family:'Liberation Serif',serif;font-weight:bold;stroke:#000;stroke-width:0.25px;font-size:10.0px">220</text>
<text x="376.50" y="506.40" text-anchor="end" style="font-family:'Liberation Serif',serif;font-weight:bold;stroke:#000;stroke-width:0.25px;font-size:10.0px">0</text>
<text x="376.50" y="481.22" text-anchor="end" style="font-family:'Liberation Serif',serif;font-weight:bold;stroke:#000;stroke-width:0.25px;font-size:10.0px">10</text>
<text x="376.50" y="456.05" text-anchor="end" style="font-family:'Liberation Serif',serif;font-weight:bold;stroke:#000;stroke-width:0.25px;font-size:10.0px">20</text>
<text x="376.50" y="430.88" text-anchor="end" style="font-family:'Liberation Serif',serif;font-weight:bold;stroke:#000;stroke-width:0.25px;font-size:10.0px">30</text>
<text x="376.50" y="405.70" text-anchor="end" style="font-family:'Liberation Serif',serif;font-weight:bold;stroke:#000;stroke-width:0.25px;font-size:10.0px">40</text>
<text x="376.50" y="380.52" text-anchor="end" style="font-family:'Liberation Serif',serif;font-weight:bold;stroke:#000;stroke-width:0.25px;font-size:10.0px">50</text>
<text x="376.50" y="355.35" text-anchor="end" style="font-family:'Liberation Serif',serif;font-weight:bold;stroke:#000;stroke-width:0.25px;font-size:10.0px">60</text>
<text x="376.50" y="330.18" text-anchor="end" style="font-family:'Liberation Serif',serif;font-weight:bold;stroke:#000;stroke-width:0.25px;font-size:10.0px">70</text>
<text x="376.50" y="305.00" text-anchor="end" style="font-family:'Liberation Serif',serif;font-weight:bold;stroke:#000;stroke-width:0.25px;font-size:10.0px">80</text>
<polyline points="411.30,451.79 469.10,453.56 526.90,453.05 584.70,453.56 642.50,451.29" fill="none" stroke="#000000" stroke-width="1.0" stroke-linejoin="round"/>
<rect x="408.60" y="449.09" width="5.40" height="5.40" fill="#000000"/>
<rect x="466.40" y="450.86" width="5.40" height="5.40" fill="#000000"/>
<rect x="524.20" y="450.35" width="5.40" height="5.40" fill="#000000"/>
<rect x="582.00" y="450.86" width="5.40" height="5.40" fill="#000000"/>
<rect x="639.80" y="448.59" width="5.40" height="5.40" fill="#000000"/>
<polyline points="411.30,460.35 469.10,461.11 526.90,460.35 584.70,460.35 642.50,458.59" fill="none" stroke="#ff0000" stroke-width="1.0" stroke-linejoin="round"/>
<circle cx="411.30" cy="460.35" r="3.05" fill="#ff0000"/>
<circle cx="469.10" cy="461.11" r="3.05" fill="#ff0000"/>
<circle cx="526.90" cy="460.35" r="3.05" fill="#ff0000"/>
<circle cx="584.70" cy="460.35" r="3.05" fill="#ff0000"/>
<circle cx="642.50" cy="458.59" r="3.05" fill="#ff0000"/>
<line x1="411.30" y1="375.01" x2="411.30" y2="391.12" stroke="#00ff00" stroke-width="1"/>
<line x1="408.90" y1="375.01" x2="413.70" y2="375.01" stroke="#00ff00" stroke-width="1"/>
<line x1="408.90" y1="391.12" x2="413.70" y2="391.12" stroke="#00ff00" stroke-width="1"/>
<line x1="469.10" y1="376.27" x2="469.10" y2="381.30" stroke="#00ff00" stroke-width="1"/>
<line x1="466.70" y1="376.27" x2="471.50" y2="376.27" stroke="#00ff00" stroke-width="1"/>
<line x1="466.70" y1="381.30" x2="471.50" y2="381.30" stroke="#00ff00" stroke-width="1"/>
<line x1="526.90" y1="360.16" x2="526.90" y2="374.76" stroke="#00ff00" stroke-width="1"/>
<line x1="524.50" y1="360.16" x2="529.30" y2="360.16" stroke="#00ff00" stroke-width="1"/>
<line x1="524.50" y1="374.76" x2="529.30" y2="374.76" stroke="#00ff00" stroke-width="1"/>
<line x1="584.70" y1="356.88" x2="584.70" y2="361.92" stroke="#00ff00" stroke-width="1"/>
<line x1="582.30" y1="356.88" x2="587.10" y2="356.88" stroke="#00ff00" stroke-width="1"/>
<line x1="582.30" y1="361.92" x2="587.10" y2="361.92" stroke="#00ff00" stroke-width="1"/>
<line x1="642.50" y1="341.02" x2="642.50" y2="353.61" stroke="#00ff00" stroke-width="1"/>
<line x1="640.10" y1="341.02" x2="644.90" y2="341.02" stroke="#00ff00" stroke-width="1"/>
<line x1="640.10" y1="353.61" x2="644.90" y2="353.61" stroke="#00ff00" stroke-width="1"/>
<polyline points="411.30,383.07 469.10,378.79 526.90,367.46 584.70,359.40 642.50,347.32" fill="none" stroke="#0000ff" stroke-width="1.0" stroke-linejoin="round"/>
<polygon points="411.30,378.87 415.00,385.37 407.60,385.37" fill="#00ff00"/>
<polygon points="469.10,374.59 472.80,381.09 465.40,381.09" fill="#00ff00"/>
<polygon points="526.90,363.26 530.60,369.76 523.20,369.76" fill="#00ff00"/>
<polygon points="584.70,355.20 588.40,361.70 581.00,361.70" fill="#00ff00"/>
<polygon points="642.50,343.12 646.20,349.62 638.80,349.62" fill="#00ff00"/>
<line x1="496.90" y1="313.40" x2="519.10" y2="313.40" stroke="#000" stroke-width="1.1"/>
<rect x="505.50" y="310.70" width="5.40" height="5.40" fill="#000"/>
<text x="521.55" y="316.70" style="font-family:'Liberation Serif',serif;font-weight:bold;stroke:#000;stroke-width:0.25px;font-size:9.5px;letter-spacing:0.22px">D(111)</text>
<line x1="496.90" y1="325.40" x2="519.10" y2="325.40" stroke="#ff0000" stroke-width="1.1"/>
<circle cx="508.20" cy="325.40" r="3.05" fill="#ff0000"/>
<text x="521.55" y="328.70" style="font-family:'Liberation Serif',serif;font-weight:bold;stroke:#000;stroke-width:0.25px;font-size:9.5px;letter-spacing:0.22px">D(200)</text>
<line x1="496.90" y1="337.50" x2="519.10" y2="337.50" stroke="#0000ff" stroke-width="1.1"/>
<polygon points="508.20,333.30 511.90,339.80 504.50,339.80" fill="#00ff00"/>
<text x="521.55" y="340.80" style="font-family:'Liberation Serif',serif;font-weight:bold;stroke:#000;stroke-width:0.25px;font-size:9.5px;letter-spacing:0.22px">D(220)</text>
<text transform="translate(22.90,134.20) rotate(-90)" text-anchor="middle" style="font-family:'Liberation Serif',serif;font-weight:bold;stroke:#000;stroke-width:0.25px;font-size:12.48px">Texture Coefficient/%</text>
<text transform="translate(366.30,122.75) rotate(-90)" text-anchor="middle" style="font-family:'Liberation Serif',serif;font-weight:bold;stroke:#000;stroke-width:0.25px;font-size:12.3px">Texture Coefficient/%</text>
<text transform="translate(23.70,404.40) rotate(-90)" text-anchor="middle" style="font-family:'Liberation Serif',serif;font-weight:bold;stroke:#000;stroke-width:0.25px;font-size:12.36px">Texture Coefficient/ %</text>
<text transform="translate(359.00,410.30) rotate(-90)" text-anchor="middle" style="font-family:'Liberation Serif',serif;font-weight:bold;stroke:#000;stroke-width:0.25px;font-size:12.24px">Grain size (nm)</text>
<text x="189.25" y="254.00" text-anchor="middle" style="font-family:'Liberation Serif',serif;font-weight:bold;stroke:#000;stroke-width:0.25px;font-size:12.37px" >Injection velocity (m/s)</text>
<text x="529.20" y="252.85" text-anchor="middle" style="font-family:'Liberation Serif',serif;font-weight:bold;stroke:#000;stroke-width:0.25px;font-size:12.19px" >Injection velocity (m/s)</text>
<text x="190.00" y="528.10" text-anchor="middle" style="font-family:'Liberation Serif',serif;font-weight:bold;stroke:#000;stroke-width:0.25px;font-size:12.15px" >Injection velocity (m/s)</text>
<text x="417.7" y="530.7" style="font-family:'Liberation Serif',serif;font-weight:bold;stroke:#000;stroke-width:0.25px;font-size:12.26px">Electrodeposition current density (A/dm<tspan dx="0.4" dy="-6.6" style="font-size:6.4px">2</tspan><tspan dx="0.8" dy="6.6">)</tspan></text>
<text x="169.40" y="269.00" text-anchor="middle" style="font-family:'Liberation Serif',serif;font-size:15.5px" stroke="#000" stroke-width="0.3">TC(111)</text>
<text x="511.70" y="268.60" text-anchor="middle" style="font-family:'Liberation Serif',serif;font-size:15.2px" stroke="#000" stroke-width="0.3">TC(200)</text>
<text x="169.60" y="545.00" text-anchor="middle" style="font-family:'Liberation Serif',serif;font-size:14.9px" stroke="#000" stroke-width="0.3">TC(220)</text>
<text transform="translate(11.27,22.45) scale(1.05,1)" style="font-family:'Liberation Serif',serif;font-size:20.4px" stroke="#000" stroke-width="0.6">a</text>
<text transform="translate(351.50,20.00) scale(1.0,1)" style="font-family:'Liberation Serif',serif;font-size:21.5px" stroke="#000" stroke-width="0.6">b</text>
<text transform="translate(12.66,292.45) scale(1.05,1)" style="font-family:'Liberation Serif',serif;font-size:20.4px" stroke="#000" stroke-width="0.6">c</text>
<text transform="translate(352.35,292.50) scale(1.0,1)" style="font-family:'Liberation Serif',serif;font-size:21.5px" stroke="#000" stroke-width="0.6">d</text>
<rect x="2.3" y="3" width="680.7" height="549.9" fill="none" stroke="#0000ff" stroke-width="2"/>
<line x1="342" y1="3" x2="342" y2="553" stroke="#0000ff" stroke-width="2"/>
<line x1="2.3" y1="273.8" x2="683" y2="273.8" stroke="#0000ff" stroke-width="1.8"/>
</svg>
</body></html>
